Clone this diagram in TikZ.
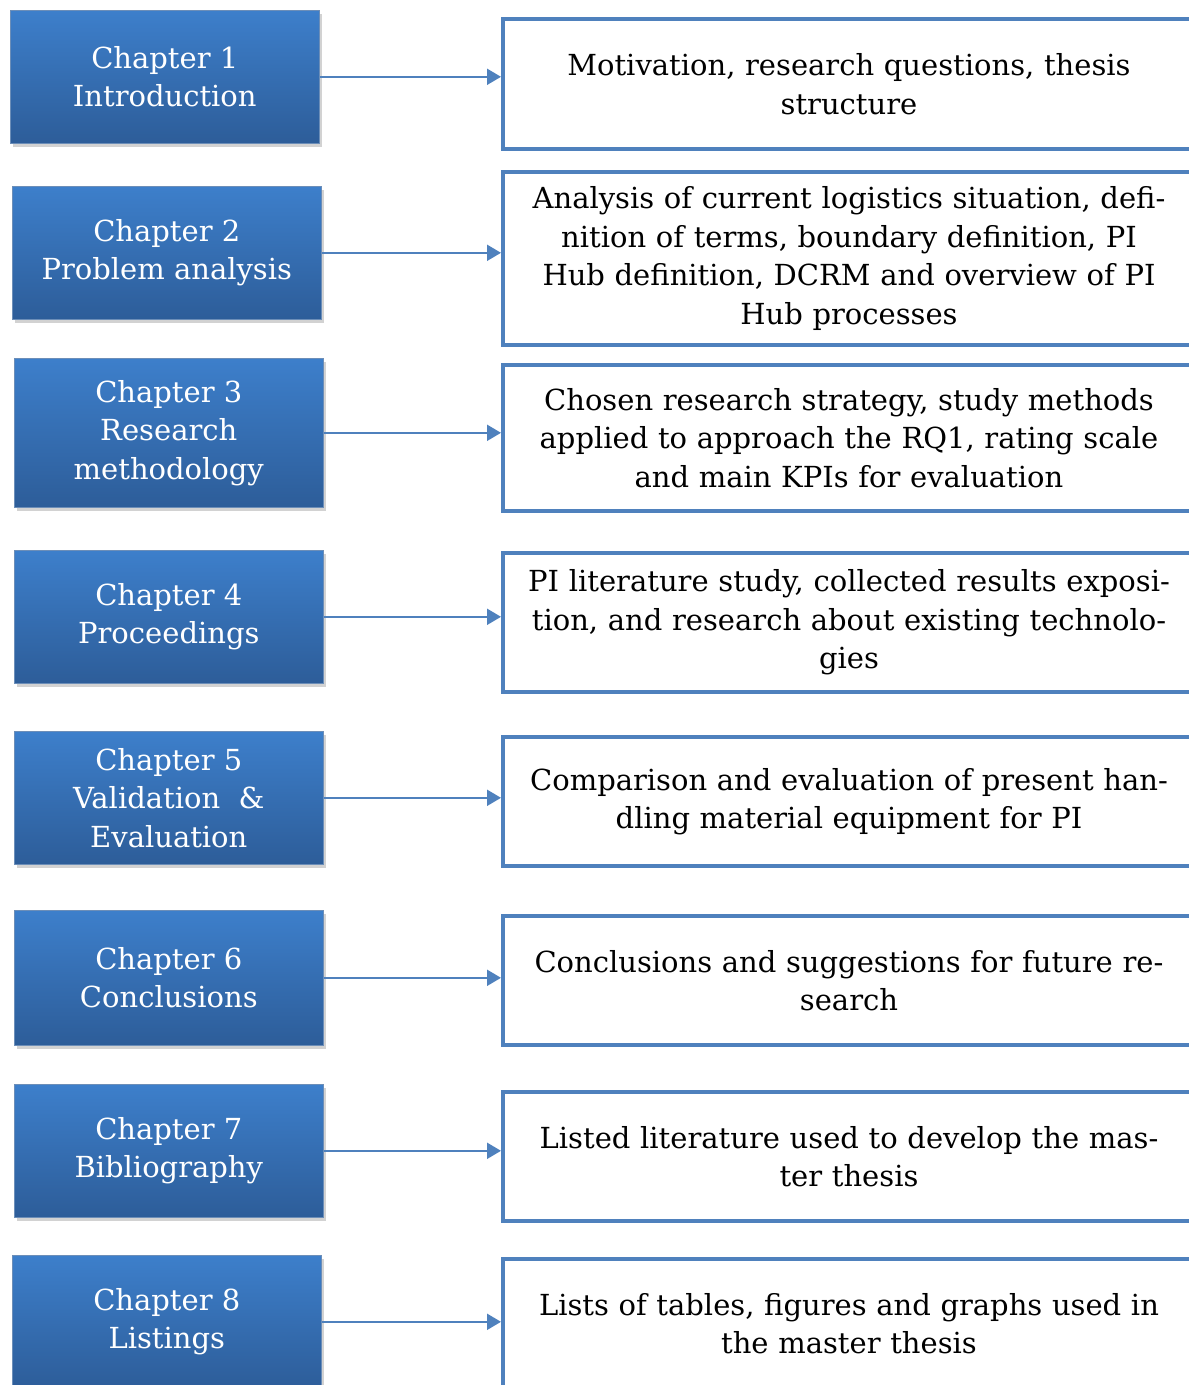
\documentclass[tikz,border=0pt]{standalone}
\usepackage{fontspec}
\setmainfont{DejaVu Serif}
\usetikzlibrary{shadows,arrows.meta}
\definecolor{accent}{RGB}{79,129,189}
\definecolor{chtop}{RGB}{61,127,203}
\definecolor{chbot}{RGB}{45,93,153}
\tikzset{
  chapter/.style={rectangle, anchor=north west, minimum width=309pt, inner sep=0pt,
    top color=chtop, bottom color=chbot, draw=chbot!70!white, line width=0.6pt,
    text=white, align=center, font=\fontsize{29}{38.5}\selectfont,
    drop shadow={opacity=0.25, shadow xshift=3pt, shadow yshift=-4pt, fill=black!70}},
  summary/.style={rectangle, anchor=north west, minimum width=692pt, inner sep=0pt,
    draw=accent, line width=4pt, fill=white, text=black, align=center,
    text width=680pt, font=\fontsize{29}{38.5}\selectfont},
  link/.style={draw=accent, line width=2pt, -{Triangle[length=14pt,width=16pt]}}
}
\begin{document}
\begin{tikzpicture}[x=1pt,y=-1pt]
\useasboundingbox (0,0) rectangle (1189,1385);
\clip (0,0) rectangle (1189,1385);

% chapter boxes (left column)
\node[chapter, minimum height=133pt] (c1) at (10,10)   {Chapter 1\\Introduction};
\node[chapter, minimum height=133pt] (c2) at (12,186)  {Chapter 2\\Problem analysis};
\node[chapter, minimum height=149pt] (c3) at (14,358)  {Chapter 3\\Research\\methodology};
\node[chapter, minimum height=133pt] (c4) at (14,550)  {Chapter 4\\Proceedings};
\node[chapter, minimum height=133pt] (c5) at (14,731)  {Chapter 5\\Validation\ \ \&\\Evaluation};
\node[chapter, minimum height=135pt] (c6) at (14,910)  {Chapter 6\\Conclusions};
\node[chapter, minimum height=133pt] (c7) at (14,1084) {Chapter 7\\Bibliography};
\node[chapter, minimum height=133pt] (c8) at (12,1255) {Chapter 8\\Listings};

% summary boxes (right column)
\node[summary, minimum height=130pt] (s1) at (501,17)   {Motivation, research questions, thesis\\structure};
\node[summary, minimum height=173pt] (s2) at (501,170)  {Analysis of current logistics situation, defi-\\nition of terms, boundary definition, PI\\Hub definition, DCRM and overview of PI\\Hub processes};
\node[summary, minimum height=146pt] (s3) at (501,363)  {Chosen research strategy, study methods\\applied to approach the RQ1, rating scale\\and main KPIs for evaluation};
\node[summary, minimum height=139pt] (s4) at (501,551)  {PI literature study, collected results exposi-\\tion, and research about existing technolo-\\gies};
\node[summary, minimum height=129pt] (s5) at (501,735)  {Comparison and evaluation of present han-\\dling material equipment for PI};
\node[summary, minimum height=129pt] (s6) at (501,914)  {Conclusions and suggestions for future re-\\search};
\node[summary, minimum height=129pt] (s7) at (501,1090) {Listed literature used to develop the mas-\\ter thesis};
\node[summary, minimum height=129pt] (s8) at (501,1257) {Lists of tables, figures and graphs used in\\the master thesis};

% connectors
\foreach \i in {1,...,8}
  \draw[link] (c\i.east) -- (c\i.east -| s\i.west);
\end{tikzpicture}
\end{document}
